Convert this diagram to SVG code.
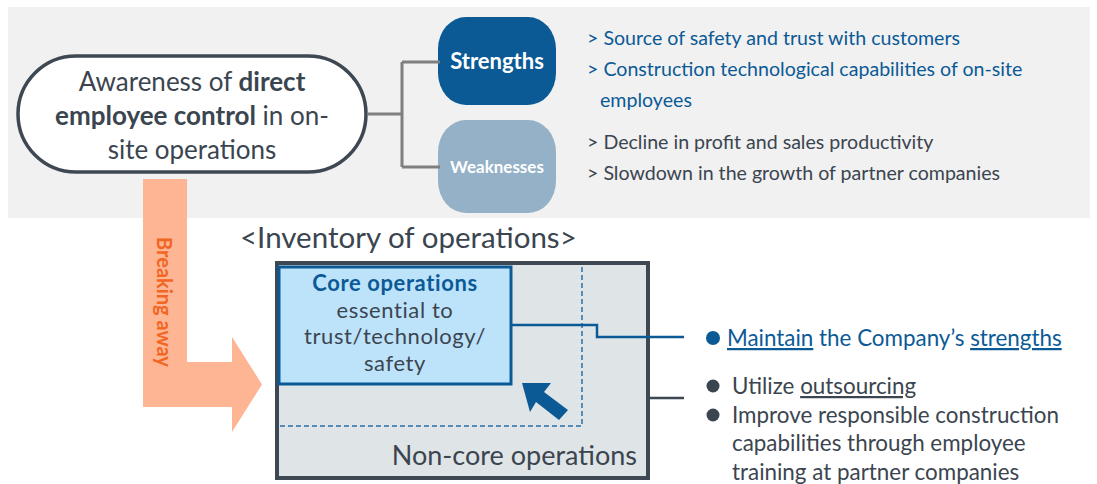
<svg xmlns="http://www.w3.org/2000/svg" width="1097" height="484" viewBox="0 0 1097 484">
  <style>
    text { font-family: Lato, "Noto Sans", sans-serif; }
    .dark { fill: #3b4550; }
    .blue { fill: #0b5a96; }
    .conn { fill: none; stroke: #7f7f7f; stroke-width: 3; }
    .u { text-decoration: underline; }
    .core-t { font-size: 22px; letter-spacing: 0.6px; }
  </style>
  <rect x="0" y="0" width="1097" height="484" fill="#ffffff"/>
  <!-- upper panel -->
  <rect x="8" y="7" width="1082" height="211" fill="#f1f1f1"/>

  <g id="awareness">
    <rect x="18" y="56" width="348" height="116" rx="58" ry="58" fill="#ffffff" stroke="#3d4852" stroke-width="3.5"/>
    <text x="192" y="91" font-size="26" text-anchor="middle" class="dark">Awareness of <tspan font-weight="bold">direct</tspan></text>
    <text x="192" y="125" font-size="26" text-anchor="middle" class="dark"><tspan font-weight="bold">employee control</tspan> in on-</text>
    <text x="192" y="159" font-size="26" text-anchor="middle" class="dark">site operations</text>
  </g>

  <g id="strengths">
    <rect x="438" y="17" width="118" height="88" rx="28" ry="32" fill="#0b5a96"/>
    <text x="497" y="69" font-size="22" font-weight="bold" fill="#ffffff" text-anchor="middle">Strengths</text>
    <text x="587" y="45" font-size="19.6" class="blue">&gt; Source of safety and trust with customers</text>
    <text x="587" y="76" font-size="19.6" class="blue">&gt; Construction technological capabilities of on-site</text>
    <text x="600" y="107" font-size="19.6" class="blue">employees</text>
  </g>

  <g id="weaknesses">
    <rect x="438" y="120" width="118" height="93" rx="28" ry="32" fill="#95b1c7"/>
    <text x="497" y="173" font-size="17" font-weight="bold" fill="#ffffff" text-anchor="middle">Weaknesses</text>
    <text x="587" y="149" font-size="19.6" class="dark">&gt; Decline in profit and sales productivity</text>
    <text x="587" y="180" font-size="19.6" class="dark">&gt; Slowdown in the growth of partner companies</text>
  </g>

  <g id="breaking-away">
    <path d="M143,179 H187 V362 H232 V337 L262,384.5 L232,432 V407 H143 Z" fill="#fdb594"/>
    <text transform="translate(165,302) rotate(90)" font-size="20" font-weight="bold" fill="#f26522" text-anchor="middle" dominant-baseline="central">Breaking away</text>
  </g>

  <text x="240" y="248" font-size="29.5" class="dark">&lt;Inventory of operations&gt;</text>

  <g id="non-core">
    <rect x="277" y="263" width="371" height="215" fill="#dfe4e6" stroke="#3d4852" stroke-width="4"/>
    <path d="M582,267 V426 H279" fill="none" stroke="#2a6fa8" stroke-width="1.5" stroke-dasharray="5,3"/>
    <text x="637" y="465" font-size="27" text-anchor="end" class="dark">Non-core operations</text>
  </g>

  <g id="core">
    <rect x="279" y="267" width="232" height="117" fill="#bde3fb" stroke="#0b5a96" stroke-width="3"/>
    <text x="395" y="291" font-weight="bold" text-anchor="middle" class="blue core-t">Core operations</text>
    <text x="395" y="317.5" text-anchor="middle" class="dark core-t">essential to</text>
    <text x="395" y="344" text-anchor="middle" class="dark core-t">trust/technology/</text>
    <text x="395" y="370.5" text-anchor="middle" class="dark core-t">safety</text>
  </g>

  <!-- inward arrow -->
  <path d="M522,383 L551,383 L544,392 L568,410 L559,420 L536,402 L530,412 Z" fill="#0b5a96"/>

  <g id="maintain">
    <circle cx="713" cy="338" r="7" fill="#0b5a96"/>
    <text x="727" y="346" font-size="22.4" class="blue"><tspan class="u">Maintain</tspan> the Company’s <tspan class="u">strengths</tspan></text>
  </g>

  <g id="outsourcing">
    <circle cx="713" cy="386" r="6.5" fill="#3b4550"/>
    <text x="732" y="394" font-size="22.4" class="dark">Utilize <tspan class="u">outsourcing</tspan></text>
    <circle cx="713" cy="415" r="6.5" fill="#3b4550"/>
    <text x="732" y="423" font-size="22.4" class="dark">Improve responsible construction</text>
    <text x="732" y="451" font-size="22.4" class="dark">capabilities through employee</text>
    <text x="732" y="480" font-size="22.4" class="dark">training at partner companies</text>
  </g>

  <!-- connectors -->
  <g id="connectors">
    <path class="conn" d="M367,114 H402 M402,62 V167 M402,62 H440 M402,167 H440"/>
    <path d="M511,325 H597 V337 H684" fill="none" stroke="#0b5a96" stroke-width="2.5"/>
    <path d="M648,398 H684" fill="none" stroke="#3d4852" stroke-width="2.5"/>
  </g>
</svg>
